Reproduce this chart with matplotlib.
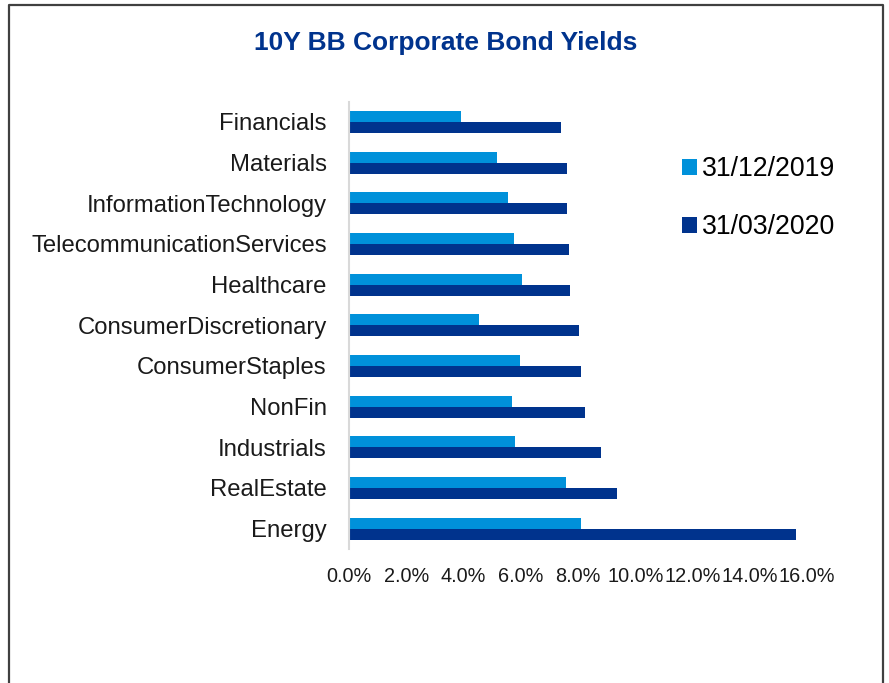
import matplotlib
matplotlib.use("Agg")
import matplotlib.pyplot as plt
import numpy as np
from matplotlib.patches import Patch
from matplotlib.lines import Line2D
from matplotlib.ticker import FuncFormatter

categories = ["Financials", "Materials", "InformationTechnology", "TelecommunicationServices",
              "Healthcare", "ConsumerDiscretionary", "ConsumerStaples", "NonFin",
              "Industrials", "RealEstate", "Energy"]
yield_2019 = [3.93, 5.17, 5.56, 5.76, 6.04, 4.55, 5.96, 5.71, 5.81, 7.57, 8.09]
yield_2020 = [7.39, 7.60, 7.63, 7.68, 7.72, 8.02, 8.12, 8.26, 8.80, 9.37, 15.60]
series_labels = ["31/12/2019", "31/03/2020"]
xticks = [0, 2, 4, 6, 8, 10, 12, 14, 16]

c_light = "#0091DA"
c_dark = "#00338D"

plt.rcParams["font.family"] = ["Liberation Sans", "DejaVu Sans"]

fig = plt.figure(figsize=(8.89, 6.83), dpi=100)
W, H = 889, 683
ax = fig.add_axes([349 / W, 1 - 549 / H, (807 - 349) / W, (549 - 101.6) / H])

y = np.arange(len(categories))
h = 0.27
ax.barh(y - h / 2, yield_2019, height=h, color=c_light, label=series_labels[0])
ax.barh(y + h / 2, yield_2020, height=h, color=c_dark, label=series_labels[1])

ax.set_ylim(len(categories) - 0.5, -0.5)
ax.set_xlim(0, 16)
ax.set_yticks(y)
ax.set_yticklabels(categories, fontsize=17.2, color="#1a1a1a")
ax.set_xticks(xticks)
ax.xaxis.set_major_formatter(FuncFormatter(lambda v, p: f"{v:.1f}%"))
ax.tick_params(axis="x", length=0, pad=13, labelsize=14.3, labelcolor="#1a1a1a")
ax.tick_params(axis="y", length=0, pad=16)
for s in ["top", "right", "bottom"]:
    ax.spines[s].set_visible(False)
ax.spines["left"].set_color("#D9D9D9")
ax.spines["left"].set_linewidth(1.5)

fig.text(446 / W, 1 - 43 / H, "10Y BB Corporate Bond Yields", ha="center", va="center",
         fontsize=19, fontweight="bold", color=c_dark)

handles = [Patch(facecolor=c_light), Patch(facecolor=c_dark)]
fig.legend(handles, series_labels, loc="upper left", bbox_to_anchor=(682 / W, 1 - 156 / H),
           frameon=False, fontsize=19.2, handlelength=0.55, handleheight=0.55,
           handletextpad=0.2, labelspacing=1.2, borderpad=0, borderaxespad=0)

# figure frame (open at bottom)
fig.add_artist(Line2D([8.5 / W, 8.5 / W, 882.5 / W, 882.5 / W],
                      [0, 1 - 4.5 / H, 1 - 4.5 / H, 0], transform=fig.transFigure,
                      color="#404040", linewidth=1.6))

fig.savefig("out.png", dpi=100)
